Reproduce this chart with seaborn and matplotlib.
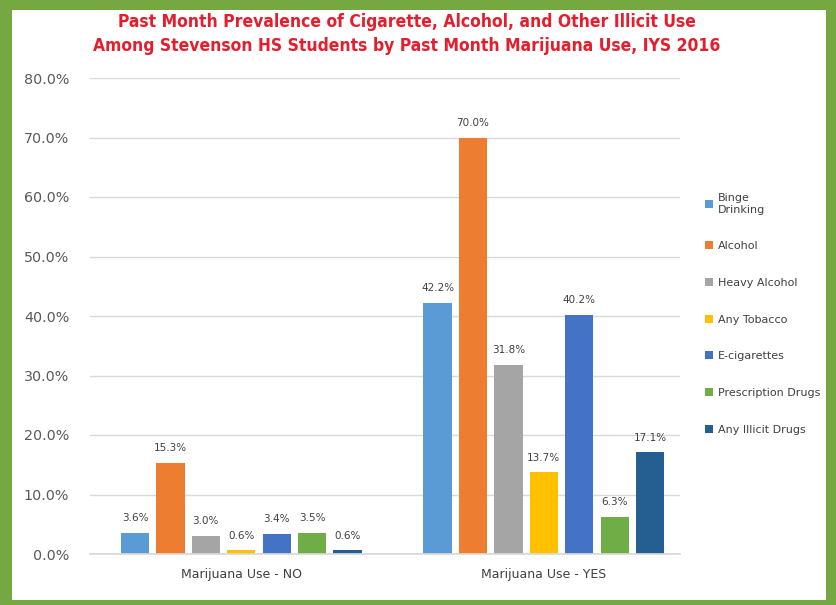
import matplotlib
matplotlib.use("Agg")
import matplotlib.pyplot as plt
import seaborn as sns
import pandas as pd
from matplotlib.patches import Rectangle
from matplotlib.ticker import FuncFormatter

groups = ["Marijuana Use - NO", "Marijuana Use - YES"]
substances = ["Binge\nDrinking", "Alcohol", "Heavy Alcohol", "Any Tobacco",
              "E-cigarettes", "Prescription Drugs", "Any Illicit Drugs"]
no_vals = [3.6, 15.3, 3.0, 0.6, 3.4, 3.5, 0.6]
yes_vals = [42.2, 70.0, 31.8, 13.7, 40.2, 6.3, 17.1]
colors = ["#5B9BD5", "#ED7D31", "#A5A5A5", "#FFC000", "#4472C4", "#70AD47", "#255E91"]

rows = []
for s, a, b in zip(substances, no_vals, yes_vals):
    rows.append({"group": groups[0], "substance": s, "value": a})
    rows.append({"group": groups[1], "substance": s, "value": b})
df = pd.DataFrame(rows)

sns.set_theme(style="white")
plt.rcParams['font.family'] = ['DejaVu Sans']

fig = plt.figure(figsize=(8.37, 6.05), dpi=100)
fig.patch.set_facecolor("#76A842")
bg = Rectangle((12/837, 5/605), (826-12)/837, (595-5)/605,
               transform=fig.transFigure, facecolor="white",
               edgecolor="none", zorder=-5)
fig.patches.append(bg)

ax = fig.add_axes([90/837, (605-554)/605, (680-90)/837, (554-78)/605])
ax.set_zorder(2)
ax.set_facecolor("white")
sns.barplot(data=df, x="group", y="value", hue="substance", order=groups,
            hue_order=substances, palette=colors, width=0.82, gap=0.2,
            ax=ax, legend=True, saturation=1, linewidth=0)

for cont in ax.containers:
    ax.bar_label(cont, labels=[f"{v:.1f}%" for v in cont.datavalues],
                 fontsize=7.5, color="#404040", padding=7)

ax.set_ylim(0, 80)
ax.set_xlim(-0.5, 1.45)
ax.set_yticks(range(0, 81, 10))
ax.yaxis.set_major_formatter(FuncFormatter(lambda v, p: f"{v:.1f}%"))
ax.grid(axis="y", color="#D9D9D9", linewidth=1)
ax.set_axisbelow(True)
for sp in ["top", "right", "left"]:
    ax.spines[sp].set_visible(False)
ax.spines["bottom"].set_color("#D9D9D9")
ax.tick_params(axis="y", labelsize=10.3, colors="#595959", length=0, pad=15)
ax.tick_params(axis="x", labelsize=9, colors="#404040", length=0, pad=10)
ax.set_xlabel("")
ax.set_ylabel("")

h, l = ax.get_legend_handles_labels()
ax.legend_.remove()
leg = fig.legend(h, l, loc="upper left", bbox_to_anchor=(695/837, (605-183)/605),
                 frameon=False, fontsize=8, labelspacing=2.4, handlelength=0.7,
                 handleheight=0.7, handletextpad=0.5, labelcolor="#404040")
leg.set_zorder(3)

fig.text(407/837, (605-13)/605,
         "Past Month Prevalence of Cigarette, Alcohol, and Other Illicit Use\n"
         "Among Stevenson HS Students by Past Month Marijuana Use, IYS 2016",
         ha="center", va="top", color="#E31E2D", fontsize=12.5, fontweight="bold",
         fontstretch="condensed", family=["DejaVu Sans"], linespacing=1.4)

fig.savefig("out.png", dpi=100, facecolor=fig.get_facecolor())
